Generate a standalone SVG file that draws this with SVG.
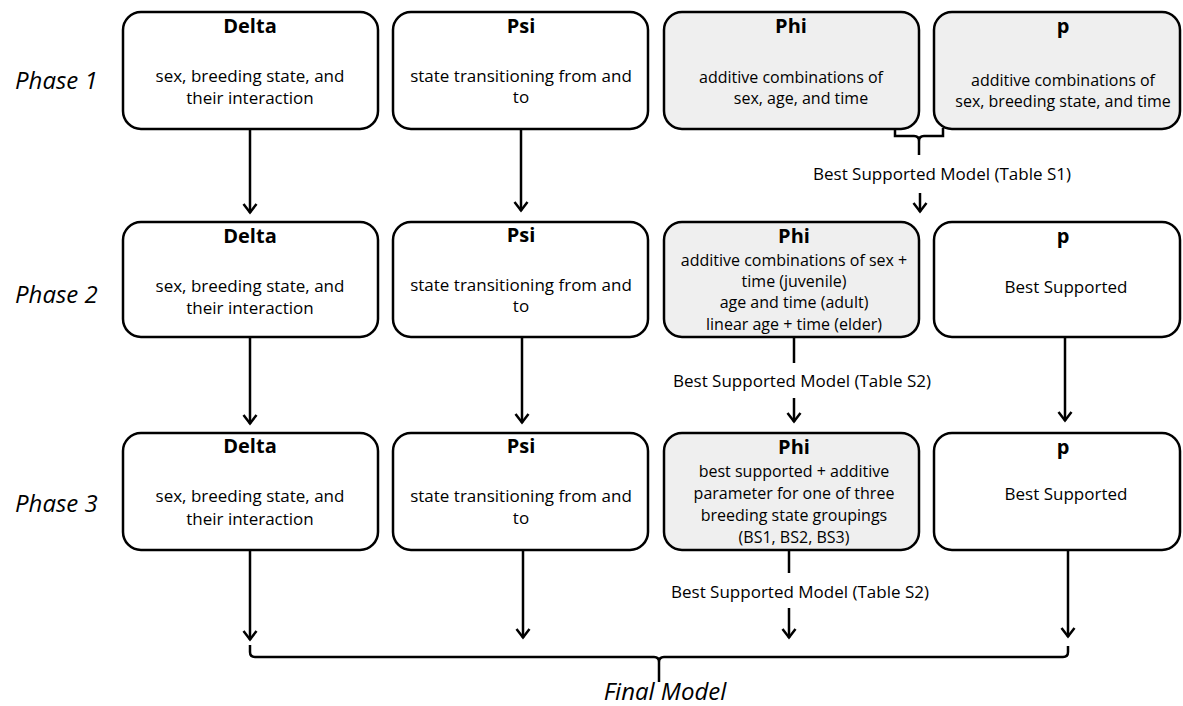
<svg xmlns="http://www.w3.org/2000/svg" width="1183" height="706" viewBox="0 0 1183 706">
<defs>
<style>
.box{stroke:#000;stroke-width:2.5;fill:#fff}
.gray{fill:#efefef}
.t{font-family:"Open Sans","Liberation Sans",sans-serif;font-size:20px;font-weight:bold;text-anchor:middle;fill:#000}
.b{font-family:"Open Sans","Liberation Sans",sans-serif;font-size:17px;text-anchor:middle;fill:#000}
.s{font-size:16px}
.ph{font-family:"Open Sans","Liberation Sans",sans-serif;font-size:24px;font-style:italic;fill:#000}
.ln{stroke:#000;stroke-width:2.5;fill:none}
</style>
<marker id="ah" markerUnits="userSpaceOnUse" markerWidth="14" markerHeight="16" viewBox="-11 -8 14 16" refX="0" refY="0" orient="auto">
<path d="M-9,-6.5 L-0.5,0 L-9,6.5" fill="none" stroke="#000" stroke-width="2.5"/>
</marker>
</defs>
<rect width="1183" height="706" fill="#fff"/>

<g id="phase-labels">
<text class="ph" x="15" y="89">Phase 1</text>
<text class="ph" x="15" y="303">Phase 2</text>
<text class="ph" x="15" y="512">Phase 3</text>
</g>

<g id="delta1">
<rect class="box" x="123" y="12" width="255" height="117" rx="18"/>
<text class="t" x="250" y="33">Delta</text>
<text class="b" x="250" y="82">sex, breeding state, and</text>
<text class="b" x="250" y="104">their interaction</text>
</g>
<g id="psi1">
<rect class="box" x="393" y="12" width="255" height="117" rx="18"/>
<text class="t" x="521" y="33">Psi</text>
<text class="b" x="521" y="82">state transitioning from and</text>
<text class="b" x="521" y="103">to</text>
</g>
<g id="phi1">
<rect class="box gray" x="664" y="12" width="255" height="117" rx="18"/>
<text class="t" x="791" y="33">Phi</text>
<text class="b s" x="791" y="83">additive combinations of</text>
<text class="b s" x="801" y="104">sex, age, and time</text>
</g>
<g id="p1">
<rect class="box gray" x="934" y="12" width="246" height="117" rx="18"/>
<text class="t" x="1063" y="33">p</text>
<text class="b s" x="1063" y="86">additive combinations of</text>
<text class="b s" x="1063" y="107">sex, breeding state, and time</text>
</g>

<g id="delta2">
<rect class="box" x="123" y="222" width="255" height="115" rx="18"/>
<text class="t" x="250" y="243">Delta</text>
<text class="b" x="250" y="292">sex, breeding state, and</text>
<text class="b" x="250" y="314">their interaction</text>
</g>
<g id="psi2">
<rect class="box" x="393" y="222" width="255" height="115" rx="18"/>
<text class="t" x="521" y="242">Psi</text>
<text class="b" x="521" y="291">state transitioning from and</text>
<text class="b" x="521" y="312">to</text>
</g>
<g id="phi2">
<rect class="box gray" x="664" y="222" width="255" height="115" rx="18"/>
<text class="t" x="794" y="243">Phi</text>
<text class="b s" x="794" y="266">additive combinations of sex +</text>
<text class="b s" x="794" y="287">time (juvenile)</text>
<text class="b s" x="794" y="308">age and time (adult)</text>
<text class="b s" x="794" y="330">linear age + time (elder)</text>
</g>
<g id="p2">
<rect class="box" x="934" y="222" width="246" height="115" rx="18"/>
<text class="t" x="1063" y="243">p</text>
<text class="b" x="1066" y="293">Best Supported</text>
</g>

<g id="delta3">
<rect class="box" x="123" y="433" width="255" height="117" rx="18"/>
<text class="t" x="250" y="453">Delta</text>
<text class="b" x="250" y="502">sex, breeding state, and</text>
<text class="b" x="250" y="525">their interaction</text>
</g>
<g id="psi3">
<rect class="box" x="393" y="433" width="255" height="117" rx="18"/>
<text class="t" x="521" y="453">Psi</text>
<text class="b" x="521" y="502">state transitioning from and</text>
<text class="b" x="521" y="524">to</text>
</g>
<g id="phi3">
<rect class="box gray" x="664" y="433" width="255" height="117" rx="18"/>
<text class="t" x="794" y="454">Phi</text>
<text class="b s" x="794" y="477">best supported + additive</text>
<text class="b s" x="794" y="499">parameter for one of three</text>
<text class="b s" x="794" y="521">breeding state groupings</text>
<text class="b s" x="794" y="543">(BS1, BS2, BS3)</text>
</g>
<g id="p3">
<rect class="box" x="934" y="433" width="246" height="117" rx="18"/>
<text class="t" x="1063" y="454">p</text>
<text class="b" x="1066" y="500">Best Supported</text>
</g>

<g id="final-model">
<text class="ph" x="665" y="700" text-anchor="middle">Final Model</text>
</g>

<g id="connectors">
<line class="ln" x1="250" y1="129" x2="250" y2="213" marker-end="url(#ah)"/>
<line class="ln" x1="521" y1="129" x2="521" y2="211" marker-end="url(#ah)"/>
<path class="ln" d="M895,128 V136 H914 Q919,136 919,141 V155 M919,141 Q919,136 924,136 H943 V128"/>
<text class="b" x="942" y="180">Best Supported Model (Table S1)</text>
<line class="ln" x1="920" y1="193" x2="920" y2="212" marker-end="url(#ah)"/>

<line class="ln" x1="250" y1="337" x2="250" y2="424" marker-end="url(#ah)"/>
<line class="ln" x1="522" y1="337" x2="522" y2="423" marker-end="url(#ah)"/>
<line class="ln" x1="794" y1="337" x2="794" y2="363"/>
<text class="b" x="802" y="387">Best Supported Model (Table S2)</text>
<line class="ln" x1="794" y1="398" x2="794" y2="422" marker-end="url(#ah)"/>
<line class="ln" x1="1065" y1="337" x2="1065" y2="421" marker-end="url(#ah)"/>

<line class="ln" x1="250" y1="550" x2="250" y2="640" marker-end="url(#ah)"/>
<line class="ln" x1="523" y1="550" x2="523" y2="638" marker-end="url(#ah)"/>
<line class="ln" x1="789" y1="550" x2="789" y2="573"/>
<text class="b" x="800" y="598">Best Supported Model (Table S2)</text>
<line class="ln" x1="789" y1="608" x2="789" y2="638" marker-end="url(#ah)"/>
<line class="ln" x1="1068" y1="550" x2="1068" y2="637" marker-end="url(#ah)"/>

<path class="ln" d="M250,645 V652 Q250,657 255,657 H654 Q659,657 659,662 V682 M659,662 Q659,657 664,657 H1063 Q1068,657 1068,652 V646"/>
</g>
</svg>
